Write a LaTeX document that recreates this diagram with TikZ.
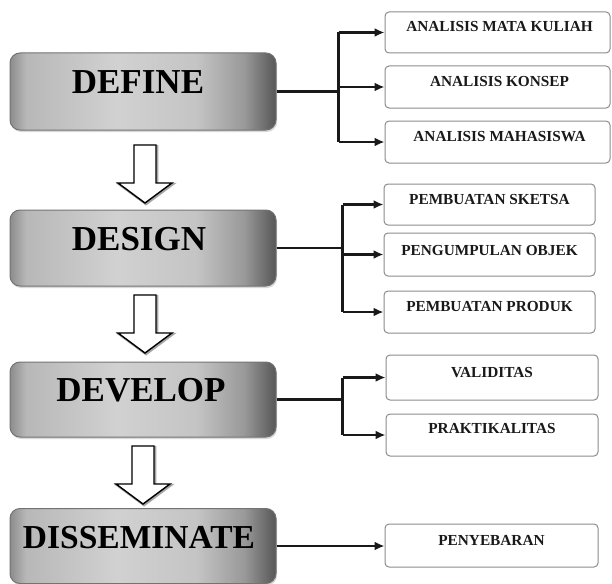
\documentclass[tikz,border=0pt]{standalone}
\usepackage{fontspec}
\setmainfont{Liberation Serif}
\usetikzlibrary{arrows.meta,shadows}
\pgfdeclarehorizontalshading{mainsh}{100bp}{color(0bp)=(black!45); color(25bp)=(black!45); color(28bp)=(black!28); color(45bp)=(black!18); color(60bp)=(black!23); color(69bp)=(black!40); color(75bp)=(black!66); color(100bp)=(black!66)}
\begin{document}
\begin{tikzpicture}[x=1pt,y=-1pt,
  mainbox/.style={draw=black!55, line width=1pt, rounded corners=10pt, shading=mainsh,
    minimum width=266pt, minimum height=77pt, inner sep=0pt,
    drop shadow={shadow xshift=1pt, shadow yshift=-2pt, opacity=0.3}},
  maintext/.style={inner sep=0pt, font=\fontsize{35}{35}\selectfont\bfseries, text=black},
  subbox/.style={draw=black!45, line width=1pt, rounded corners=4pt, fill=white,
    inner sep=0pt},
  subtext/.style={inner sep=0pt, font=\fontsize{15.3}{15.3}\selectfont\bfseries, text=black!90},
  conn/.style={line width=2.2pt, draw=black!90},
  tip/.style={-{Latex[length=10pt,width=9pt]}},
  blockarr/.style={draw=black, line width=1.4pt, fill=white, line join=miter},
  blockshadow/.style={draw=black!35, line width=2.5pt, line join=miter}
]
\useasboundingbox (0,0) rectangle (612,583);

% main boxes
\node[mainbox] (def) at (143,91.5) {};
\node[maintext] (deft) at ([xshift=-5pt,yshift=9pt]def.center) {DEFINE};
\node[mainbox, minimum height=76pt] (des) at (143,248) {};
\node[maintext] (dest) at ([xshift=-4pt,yshift=9pt]des.center) {DESIGN};
\node[mainbox, minimum height=75pt] (dev) at (143,399.5) {};
\node[maintext] (devt) at ([xshift=-2pt,yshift=9pt]dev.center) {DEVELOP};
\node[mainbox, minimum height=75pt] (dis) at (143,546) {};
\node[maintext, font=\fontsize{33.5}{33.5}\selectfont\bfseries] (dist) at ([xshift=-4pt,yshift=8pt]dis.center) {DISSEMINATE};

% sub boxes
\node[subbox, minimum width=225pt, minimum height=41pt] (a1) at (497.5,32.5) {};
\node[subtext] (a1t) at ([xshift=2pt,yshift=6pt]a1.center) {ANALISIS MATA KULIAH};
\node[subbox, minimum width=225pt, minimum height=42pt] (a2) at (497.5,87) {};
\node[subtext] (a2t) at ([xshift=2pt,yshift=5pt]a2.center) {ANALISIS KONSEP};
\node[subbox, minimum width=225pt, minimum height=42pt] (a3) at (497.5,142) {};
\node[subtext] (a3t) at ([xshift=2pt,yshift=5pt]a3.center) {ANALISIS MAHASISWA};

\node[subbox, minimum width=211pt, minimum height=41pt] (b1) at (489.5,204.5) {};
\node[subtext] (b1t) at ([yshift=5pt]b1.center) {PEMBUATAN SKETSA};
\node[subbox, minimum width=211pt, minimum height=43pt] (b2) at (489.5,254.5) {};
\node[subtext] (b2t) at ([yshift=4pt]b2.center) {PENGUMPULAN OBJEK};
\node[subbox, minimum width=211pt, minimum height=42pt] (b3) at (489.5,312) {};
\node[subtext] (b3t) at ([yshift=5pt]b3.center) {PEMBUATAN PRODUK};

\node[subbox, minimum width=212pt, minimum height=45pt] (c1) at (492,377.5) {};
\node[subtext] (c1t) at ([yshift=5pt]c1.center) {VALIDITAS};
\node[subbox, minimum width=212pt, minimum height=42pt] (c2) at (492,435) {};
\node[subtext] (c2t) at ([yshift=6pt]c2.center) {PRAKTIKALITAS};

\node[subbox, minimum width=213pt, minimum height=43pt] (d1) at (491.5,545.5) {};
\node[subtext] (d1t) at ([yshift=5pt]d1.center) {PENYEBARAN};

% connectors DEFINE
\path (def.east) -- ++(62,0) coordinate (dj);
\draw[conn] (def.east) -- (dj);
\draw[conn] (dj |- a1.west) -- (dj |- a3.west);
\draw[conn,tip] (dj |- a1.west) -- (a1.west);
\draw[conn,tip] (dj |- a2.west) -- (a2.west);
\draw[conn,tip] (dj |- a3.west) -- (a3.west);

% connectors DESIGN
\path (des.east) -- ++(66,0) coordinate (ej);
\draw[conn] (des.east) -- (ej);
\draw[conn] (ej |- b1.west) -- (ej |- b3.west);
\draw[conn,tip] (ej |- b1.west) -- (b1.west);
\draw[conn,tip] (ej |- b2.west) -- (b2.west);
\draw[conn,tip] (ej |- b3.west) -- (b3.west);

% connectors DEVELOP
\path (dev.east) -- ++(66,0) coordinate (vj);
\draw[conn] (dev.east) -- (vj);
\draw[conn] (vj |- c1.west) -- (vj |- c2.west);
\draw[conn,tip] (vj |- c1.west) -- (c1.west);
\draw[conn,tip] (vj |- c2.west) -- (c2.west);

% connector DISSEMINATE
\draw[conn,tip] (dis.east) -- (dis.east -| d1.west);

% block arrows
\foreach \cx/\ty in {145/145, 145/295, 143/446}{
  \draw[blockshadow] (\cx+1,\ty+1) ++(-11,0) -- ++(22,0) -- ++(0,38) -- ++(16,0) -- ++(-27,20) -- ++(-27,-20) -- ++(16,0) -- cycle;
  \draw[blockarr] (\cx,\ty) ++(-11,0) -- ++(22,0) -- ++(0,38) -- ++(16,0) -- ++(-27,20) -- ++(-27,-20) -- ++(16,0) -- cycle;
}
\end{tikzpicture}
\end{document}
